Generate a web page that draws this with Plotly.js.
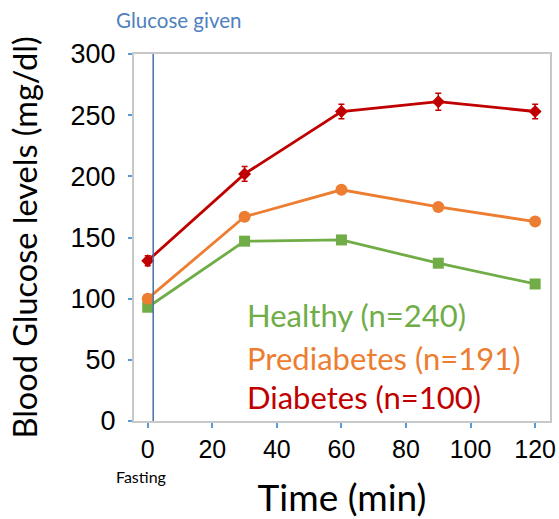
<!DOCTYPE html>
<html>
<head>
<meta charset="utf-8">
<script src="https://cdn.plot.ly/plotly-3.0.1.min.js"></script>
<style>html,body{margin:0;padding:0;background:#fff;}#chart{width:559px;height:519px;}</style>
</head>
<body>
<div id="chart"></div>
<script>
const times = [0, 30, 60, 90, 120];
const healthy = [93, 147, 148, 129, 112];
const healthyErr = [3, 3, 3, 3, 3];
const prediabetes = [100, 167, 189, 175, 163];
const diabetes = [131, 202, 253, 261, 253];
const diabetesErr = [4, 6, 6, 7, 6];
const seriesNames = ['Healthy (n=240)', 'Prediabetes (n=191)', 'Diabetes (n=100)'];
const xTicks = [0, 20, 40, 60, 80, 100, 120];
const yTicks = [0, 50, 100, 150, 200, 250, 300];
const glucoseGivenAt = 1.7;

const green = '#70ad47', orange = '#ed7d31', red = '#c00000';
const calibri = 'Lato, "Open Sans", sans-serif';

const traces = [
  {x: times, y: healthy, mode: 'lines+markers', name: seriesNames[0],
   line: {color: green, width: 2.8}, marker: {symbol: 'square', size: 11, color: green},
   error_y: {type: 'data', array: healthyErr, visible: true, color: '#ffffff', thickness: 1.2, width: 0}},
  {x: times, y: prediabetes, mode: 'lines+markers', name: seriesNames[1],
   line: {color: orange, width: 2.8}, marker: {symbol: 'circle', size: 12, color: orange}},
  {x: times, y: diabetes, mode: 'lines+markers', name: seriesNames[2],
   line: {color: red, width: 2.8}, marker: {symbol: 'diamond', size: 10, color: red},
   error_y: {type: 'data', array: diabetesErr, visible: true, color: red, thickness: 1.5, width: 3}}
];

const layout = {
  width: 559, height: 519,
  margin: {l: 134, r: 9, t: 54, b: 98},
  paper_bgcolor: '#fff', plot_bgcolor: '#fff',
  showlegend: false,
  xaxis: {
    range: [-4.25, 124.6], tickvals: xTicks, ticktext: xTicks.map(String),
    showgrid: false, zeroline: false,
    showline: true, mirror: true, linecolor: '#c8c8c8', linewidth: 2,
    ticks: 'outside', ticklen: 5, tickwidth: 2, tickcolor: '#5b9bd5',
    tickfont: {family: 'Arial, "Liberation Sans", sans-serif', size: 25, color: '#000'},
    title: {text: 'Time (min)', font: {family: calibri, size: 37, color: '#000'}, standoff: 28}
  },
  yaxis: {
    range: [0, 300], tickvals: yTicks, ticktext: yTicks.map(String),
    showgrid: false, zeroline: false,
    showline: true, mirror: true, linecolor: '#c8c8c8', linewidth: 2,
    ticks: 'outside', ticklen: 4, tickwidth: 2, tickcolor: '#5b9bd5',
    ticklabelstandoff: 7,
    tickfont: {family: 'Arial, "Liberation Sans", sans-serif', size: 27, color: '#000'},
    title: {text: 'Blood Glucose levels (mg/dl)', font: {family: calibri, size: 32.5, color: '#000'}, standoff: 23}
  },
  shapes: [{type: 'line', xref: 'x', yref: 'paper', x0: glucoseGivenAt, x1: glucoseGivenAt, y0: 0, y1: 1,
            line: {color: '#4a6fa5', width: 1.5}}],
  annotations: [
    {text: 'Glucose given', xref: 'paper', yref: 'paper', x: -0.048, y: 1.0, yshift: 34, xanchor: 'left', yanchor: 'middle',
     showarrow: false, font: {family: calibri, size: 20.5, color: '#4f81bd'}},
    {text: 'Fasting', xref: 'x', yref: 'paper', x: -2, y: 0, yshift: -55, xanchor: 'center', yanchor: 'middle',
     showarrow: false, font: {family: calibri, size: 16, color: '#000'}},
    {text: seriesNames[0], xref: 'x', yref: 'y', x: 30, y: 86.3, xanchor: 'left', yanchor: 'middle',
     showarrow: false, font: {family: calibri, size: 31, color: green}},
    {text: seriesNames[1], xref: 'x', yref: 'y', x: 30, y: 51.4, xanchor: 'left', yanchor: 'middle',
     showarrow: false, font: {family: calibri, size: 31, color: orange}},
    {text: seriesNames[2], xref: 'x', yref: 'y', x: 30, y: 20, xanchor: 'left', yanchor: 'middle',
     showarrow: false, font: {family: calibri, size: 31, color: red}}
  ]
};

Plotly.newPlot('chart', traces, layout, {displayModeBar: false, staticPlot: true});
</script>
</body>
</html>
